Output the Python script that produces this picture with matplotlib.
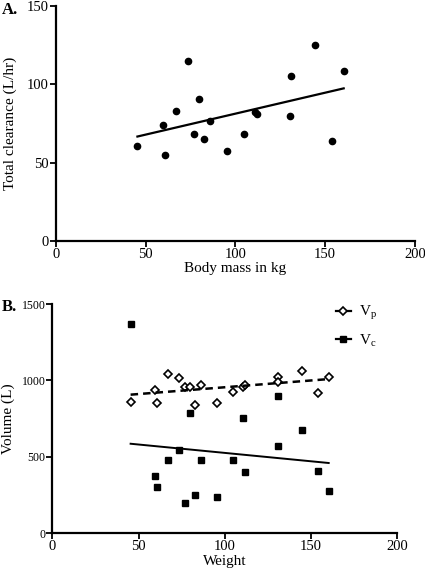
import matplotlib
matplotlib.use('Agg')
import matplotlib.pyplot as plt
from matplotlib.lines import Line2D

plt.rcParams['font.family'] = ['Liberation Serif', 'DejaVu Serif']
plt.rcParams['mathtext.fontset'] = 'custom'
plt.rcParams['mathtext.rm'] = 'Liberation Serif'
plt.rcParams['mathtext.it'] = 'Liberation Serif'

# Panel A: body mass vs total clearance
mass = [45.5, 59.9, 60.7, 67.0, 73.7, 77.2, 79.8, 82.7, 86.1, 95.4,
        105.0, 110.9, 111.9, 130.8, 130.6, 144.3, 154.0, 160.3]
clearance = [60.6, 74.0, 54.7, 82.7, 114.5, 68.5, 90.7, 65.2, 76.7, 57.4,
             68.3, 82.3, 80.8, 105.1, 79.6, 124.7, 63.5, 108.6]
fit_a_x = [45.5, 160.3]
fit_a_y = [66.6, 97.3]

# Panel B: weight vs volumes
weight = [45.4, 59.7, 60.7, 66.9, 73.6, 77.1, 79.6, 82.7, 86.0, 95.3,
          104.7, 110.5, 111.9, 130.8, 130.6, 144.5, 154.0, 160.2]
vp = [857, 937, 852, 1040, 1018, 959, 955, 839, 968, 852,
      922, 955, 968, 1025, 988, 1062, 920, 1025]
vc = [1371, 375, 301, 482, 545, 196, 785, 253, 482, 235,
      477, 756, 403, 900, 569, 674, 405, 279]
fit_p_x = [45.4, 160.2]
fit_p_y = [907, 1009]
fit_c_x = [45.4, 160.2]
fit_c_y = [586, 460]

fig = plt.figure(figsize=(4.25, 5.69), dpi=100)

def style(ax):
    for s in ['top', 'right']:
        ax.spines[s].set_visible(False)
    for s in ['left', 'bottom']:
        ax.spines[s].set_linewidth(1.6)
    ax.tick_params(width=1.3, length=4, labelsize=10.5, pad=1)

# A
ax1 = fig.add_axes([0.131, 0.5764, 0.8455, 0.4136])
ax1.plot(mass, clearance, 'o', color='black', markersize=4.5)
ax1.plot(fit_a_x, fit_a_y, '-', color='black', linewidth=1.6)
ax1.set_xlim(0, 200)
ax1.set_ylim(0, 150)
ax1.set_xticks([0, 50, 100, 150, 200])
ax1.set_yticks([0, 50, 100, 150])
ax1.set_xlabel('Body mass in kg', fontsize=11, labelpad=1)
ax1.set_ylabel('Total clearance (L/hr)', fontsize=11, labelpad=7)
style(ax1)

# B
ax2 = fig.add_axes([0.123, 0.0627, 0.812, 0.403])
ax2.plot(weight, vp, 'D', markerfacecolor='white', markeredgecolor='black',
         markeredgewidth=1.2, markersize=4.5)
ax2.plot(weight, vc, 's', color='black', markersize=4.5)
ax2.plot(fit_p_x, fit_p_y, '--', color='black', linewidth=1.8, dashes=(3, 2))
ax2.plot(fit_c_x, fit_c_y, '-', color='black', linewidth=1.4)
ax2.set_xlim(0, 200)
ax2.set_ylim(0, 1500)
ax2.set_xticks([0, 50, 100, 150, 200])
ax2.set_yticks([0, 500, 1000, 1500])
ax2.set_xlabel('Weight', fontsize=11, labelpad=1)
ax2.set_ylabel('Volume (L)', fontsize=11, labelpad=5)
style(ax2)
ax2.tick_params(axis='y', labelsize=8.5)

handles = [
    Line2D([], [], color='black', linewidth=1.6, marker='D', markersize=4.5,
           markerfacecolor='white', markeredgecolor='black', markeredgewidth=1.2),
    Line2D([], [], color='black', linewidth=1.6, marker='s', markersize=4.5),
]
ax2.legend(handles, ['V$_\\mathregular{p}$', 'V$_\\mathregular{c}$'],
           loc='upper right', bbox_to_anchor=(0.98, 1.06), frameon=False,
           fontsize=11, handlelength=1.0, labelspacing=0.7, handletextpad=0.5)

fig.text(0.005, 0.983, 'A.', fontsize=12, fontweight='bold', va='center')
fig.text(0.005, 0.461, 'B.', fontsize=12, fontweight='bold', va='center')

fig.savefig('out.png', dpi=100)
